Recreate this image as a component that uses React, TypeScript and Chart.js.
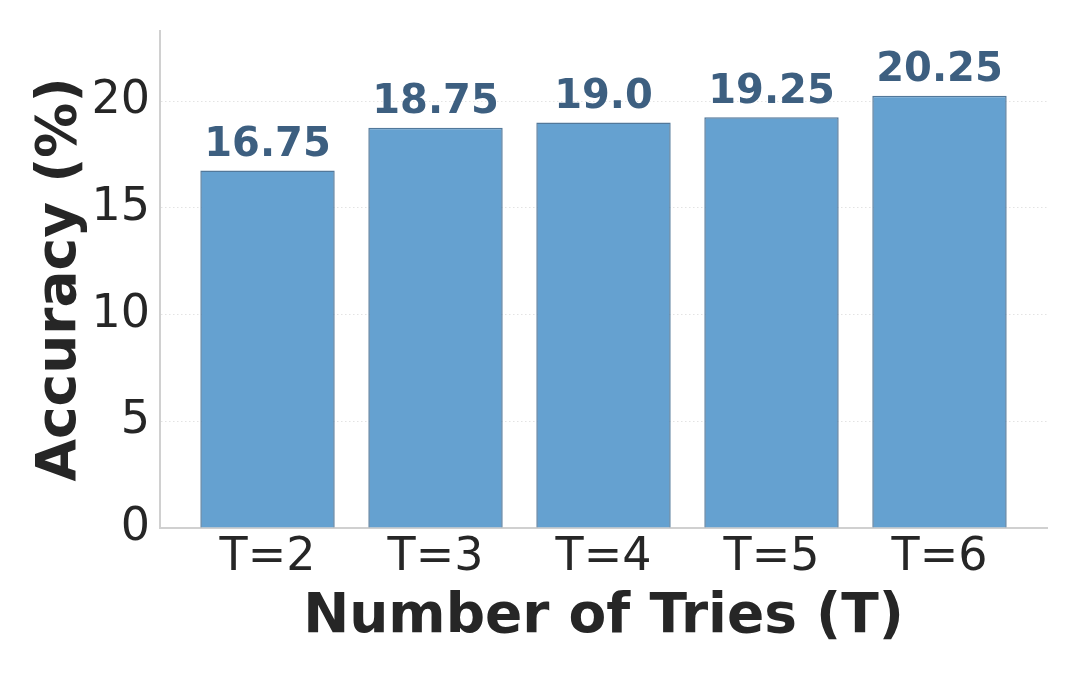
import React, { useEffect, useRef } from "react";
import { Chart, registerables } from "chart.js";

Chart.register(...registerables);

const categories = ["T=2", "T=3", "T=4", "T=5", "T=6"];
const accuracy = [16.75, 18.75, 19.0, 19.25, 20.25];
const yTicks = [0, 5, 10, 15, 20];
const barLabels = ["16.75", "18.75", "19.0", "19.25", "20.25"];

const FONT = "'DejaVu Sans', sans-serif";

const barLabelPlugin = {
  id: "barLabels",
  afterDatasetsDraw(chart: any) {
    const meta = chart.getDatasetMeta(0);
    const ctx = chart.ctx;
    ctx.save();
    ctx.font = `bold 40px ${FONT}`;
    ctx.fillStyle = "#3d5f80";
    ctx.textAlign = "center";
    ctx.textBaseline = "alphabetic";
    meta.data.forEach((el: any, i: number) => {
      ctx.fillText(barLabels[i], el.x, el.y - 14.5);
    });
    ctx.restore();
  },
};

export default function App() {
  const ref = useRef<HTMLCanvasElement | null>(null);
  useEffect(() => {
    if (!ref.current) return;
    const yMax = Math.max(...accuracy) * 1.15;
    const chart = new Chart(ref.current, {
      type: "bar",
      data: {
        datasets: [
          {
            data: accuracy.map((v, i) => ({ x: i, y: v })),
            backgroundColor: "#65a1d0",
            borderColor: "#52789a",
            borderWidth: 1.5,
            barPercentage: 0.8,
            categoryPercentage: 1,
          },
        ],
      },
      options: {
        responsive: false,
        animation: false,
        layout: { padding: { top: 31, right: 33, left: 0, bottom: 0 } },
        plugins: { legend: { display: false }, tooltip: { enabled: false } },
        scales: {
          x: {
            type: "linear",
            offset: false,
            min: -0.64,
            max: 4.64,
            afterBuildTicks: (s: any) => {
              s.ticks = categories.map((_, i) => ({ value: i }));
            },
            afterFit: (s: any) => {
              s.height = 147;
              s.paddingLeft = 0;
              s.paddingRight = 0;
            },
            ticks: {
              callback: (v: any) => categories[v] ?? "",
              autoSkip: false,
              maxRotation: 0,
              padding: 2,
              color: "#262626",
              font: { family: FONT, size: 46 },
            },
            grid: { display: false, drawTicks: false },
            border: { display: true, color: "#d0d0d0", width: 2 },
            title: {
              display: true,
              text: "Number of Tries (T)",
              color: "#262626",
              font: { family: FONT, size: 55, weight: "bold" },
              padding: { top: 0, bottom: 24 },
            },
          },
          y: {
            min: 0,
            max: yMax,
            afterBuildTicks: (s: any) => {
              s.ticks = yTicks.map((v) => ({ value: v }));
            },
            afterFit: (s: any) => {
              s.width = 160;
              s.paddingTop = 0;
              s.paddingBottom = 0;
            },
            ticks: {
              padding: 10,
              color: "#262626",
              font: { family: FONT, size: 46 },
            },
            grid: {
              drawTicks: false,
              color: (c: any) => (c.tick && c.tick.value === 0 ? "rgba(0,0,0,0)" : "#e3e3e3"),
              lineWidth: 1,
            },
            border: { display: true, color: "#d0d0d0", width: 2, dash: [1.5, 2.5] },
            title: {
              display: true,
              text: "Accuracy (%)",
              color: "#262626",
              font: { family: FONT, size: 55, weight: "bold" },
              padding: { top: 28, bottom: 0 },
            },
          },
        },
      },
      plugins: [barLabelPlugin],
    } as any);
    return () => chart.destroy();
  }, []);
  return (
    <div style={{ position: "absolute", left: 0, top: 0, width: 1080, height: 675, background: "#fff" }}>
      <canvas ref={ref} width={1080} height={675} style={{ width: 1080, height: 675 }} />
    </div>
  );
}
